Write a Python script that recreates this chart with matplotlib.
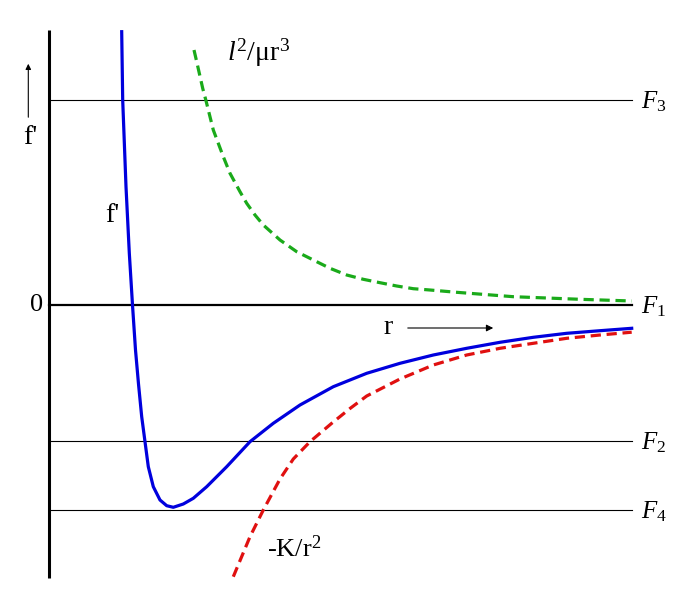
import numpy as np
import matplotlib.pyplot as plt

plt.rcParams['font.family'] = ['Liberation Serif', 'DejaVu Serif']
plt.rcParams['mathtext.fontset'] = 'custom'
plt.rcParams['mathtext.rm'] = 'Liberation Serif'
plt.rcParams['mathtext.it'] = 'Liberation Serif:italic'

# effective force f' (sum)
r_sum = [0.727, 0.737, 0.77, 0.803, 0.835, 0.865, 0.895, 0.927, 0.96, 0.993,
         1.043, 1.11, 1.177, 1.243, 1.343, 1.443, 1.577, 1.777, 2.01, 2.243,
         2.51, 2.843, 3.177, 3.51, 3.843, 4.177, 4.51, 4.843, 5.177, 5.51, 5.827]
f_sum = [2.733, 2.05, 1.183, 0.52, 0.0, -0.45, -0.79, -1.117, -1.367, -1.617,
         -1.817, -1.95, -2.007, -2.023, -1.99, -1.933, -1.817, -1.617, -1.367, -1.183,
         -1.0, -0.817, -0.683, -0.583, -0.5, -0.433, -0.373, -0.323, -0.283, -0.257, -0.233]

# centrifugal term l^2/mu r^3
r_cent = [1.45, 1.477, 1.537, 1.57, 1.643, 1.743, 1.81, 1.91, 1.977, 2.06,
          2.143, 2.31, 2.477, 2.643, 2.81, 2.977, 3.143, 3.31, 3.477, 3.643,
          3.81, 4.077, 4.643, 5.31, 5.827]
f_cent = [2.55, 2.433, 2.167, 2.043, 1.75, 1.483, 1.317, 1.133, 1.017, 0.9,
          0.8, 0.65, 0.533, 0.45, 0.367, 0.3, 0.257, 0.223, 0.19, 0.163,
          0.15, 0.127, 0.083, 0.057, 0.04]

# attractive term -K/r^2
r_grav = [1.843, 2.01, 2.143, 2.31, 2.443, 2.61, 2.827, 3.01, 3.177, 3.51, 3.843,
          4.177, 4.51, 4.843, 5.177, 5.51, 5.827]
f_grav = [-2.717, -2.317, -2.05, -1.74, -1.54, -1.367, -1.183, -1.035, -0.91, -0.74, -0.6,
          -0.5, -0.433, -0.383, -0.333, -0.3, -0.272]

# horizontal levels
levels = {'F_3': 2.05, 'F_1': 0.0, 'F_2': -1.36, 'F_4': -2.05}
r_end = 5.83

fig = plt.figure(figsize=(6.74, 5.93), dpi=100)
ax = fig.add_axes([0, 0, 1, 1])
ax.set_xlim(-0.49, 6.25)
ax.set_ylim(-2.88, 3.05)
ax.axis('off')

# vertical axis
ax.plot([0, 0], [-2.73, 2.75], color='black', lw=2.2, solid_capstyle='butt')

for name, lev in levels.items():
    lw = 1.6 if lev == 0 else 0.8
    ax.plot([0, r_end], [lev, lev], color='black', lw=lw)
    ax.text(r_end + 0.09, lev - 0.02, '$' + name + '$', fontsize=18, va='center', ha='left')

ax.plot(r_cent, f_cent, color='#1aaa1a', lw=2.3, dashes=(3.2, 1.8))
ax.plot(r_grav, f_grav, color='#e01010', lw=2.3, dashes=(3.2, 1.8))
ax.plot(r_sum, f_sum, color='#0000dd', lw=2.3)

ax.text(-0.125, 0.0, '0', fontsize=19, ha='center', va='center')
ax.text(-0.19, 1.67, "f'", fontsize=20, ha='center', va='center')
ax.text(0.63, 0.9, "f'", fontsize=20, ha='center', va='center')
ax.annotate('', xy=(-0.207, 2.44), xytext=(-0.207, 1.85),
            arrowprops=dict(arrowstyle='-|>', color='black', lw=0.8,
                            mutation_scale=8))
ax.text(3.39, -0.23, 'r', fontsize=20, ha='center', va='center')
ax.annotate('', xy=(4.47, -0.23), xytext=(3.56, -0.23),
            arrowprops=dict(arrowstyle='-|>', color='black', lw=0.8,
                            mutation_scale=10))
ax.text(1.78, 2.52, r'$l^2/\mathrm{\mu r}^3$', fontsize=20, ha='left', va='center')
ax.text(2.18, -2.44, r'-K/r$^2$', fontsize=19, ha='left', va='center')

fig.savefig('out.png', dpi=100)
